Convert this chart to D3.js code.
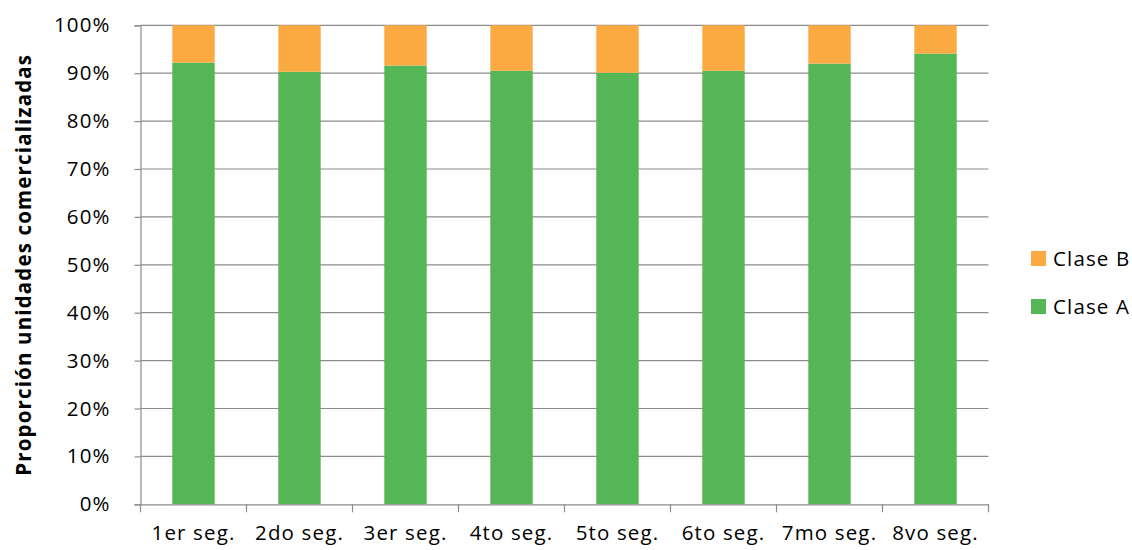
<!DOCTYPE html>
<html><head><meta charset="utf-8">
<script src="https://cdn.jsdelivr.net/npm/d3@7"></script>
<style>body{margin:0;background:#fff}svg{display:block}text{font-family:"Open Sans",sans-serif;fill:#000;letter-spacing:1.15px}</style>
</head><body>
<svg id="c" width="1132" height="550"></svg>
<script>
const categories = ["1er seg.","2do seg.","3er seg.","4to seg.","5to seg.","6to seg.","7mo seg.","8vo seg."];
const claseA = [92.2, 90.3, 91.6, 90.5, 90.1, 90.5, 92.0, 94.1];
const claseB = claseA.map(v => 100 - v);
const seriesNames = ["Clase A","Clase B"];
const colors = ["#54B654","#FBA941"];
const yTicks = [0,10,20,30,40,50,60,70,80,90,100];

const FS = "20.5px";
const svg = d3.select("#c");
const L = 140.5, R = 988.5, T = 25.3, B = 504.3;
const x = d3.scaleBand().domain(categories).range([L,R]).paddingInner(0.6).paddingOuter(0.3);
const y = d3.scaleLinear().domain([0,100]).range([B,T]);

// gridlines
svg.append("g").selectAll("line").data(yTicks.filter(d=>d>0)).join("line")
  .attr("x1",L).attr("x2",R).attr("y1",d=>y(d)).attr("y2",d=>y(d))
  .attr("stroke","#8c8c8c").attr("stroke-width",1.2);

const data = categories.map((c,i)=>({cat:c,"Clase A":claseA[i],"Clase B":claseB[i]}));
const stack = d3.stack().keys(seriesNames)(data);
svg.append("g").selectAll("g").data(stack).join("g").attr("fill",(d,i)=>colors[i])
  .selectAll("rect").data(d=>d).join("rect")
  .attr("x",d=>x(d.data.cat)).attr("width",x.bandwidth())
  .attr("y",d=>y(d[1])).attr("height",d=>y(d[0])-y(d[1]));

// y axis
const ya = svg.append("g").attr("transform",`translate(${L},0)`)
  .call(d3.axisLeft(y).tickValues(yTicks).tickFormat(d=>d+"%").tickSize(6).tickPadding(25));
ya.select(".domain").attr("stroke","#8c8c8c").attr("stroke-width",1.2);
ya.selectAll(".tick line").attr("stroke","#8c8c8c").attr("stroke-width",1.2);
ya.selectAll("text").style("font-size",FS).attr("fill","#000").attr("dx","1.2px");

// x axis
const xa = svg.append("g").attr("transform",`translate(0,${B})`)
  .call(d3.axisBottom(x).tickSize(0).tickPadding(21));
xa.select(".domain").attr("stroke","#8c8c8c").attr("stroke-width",1.2);
xa.selectAll("text").style("font-size",FS).attr("fill","#000");
const bounds = categories.map(c=>x(c)-x.step()*x.paddingInner()/2).concat([R]);
bounds[0]=L;
xa.append("g").selectAll("line").data(bounds).join("line")
  .attr("x1",d=>d).attr("x2",d=>d).attr("y1",0).attr("y2",8)
  .attr("stroke","#8c8c8c").attr("stroke-width",1.2);

// y title
svg.append("text").attr("transform",`translate(31,${(T+B)/2}) rotate(-90)`)
  .attr("text-anchor","middle").style("font-size",FS).style("font-weight","bold")
  .text("Proporción unidades comercializadas");

// legend
const leg = [{n:"Clase B",c:colors[1],y:258.5},{n:"Clase A",c:colors[0],y:306.5}];
const lg = svg.append("g").selectAll("g").data(leg).join("g").attr("transform",d=>`translate(1031,${d.y})`);
lg.append("rect").attr("x",0).attr("y",-7.5).attr("width",15).attr("height",15).attr("fill",d=>d.c);
lg.append("text").attr("x",22).attr("dy","0.35em").style("font-size",FS).text(d=>d.n);
</script>
</body></html>
